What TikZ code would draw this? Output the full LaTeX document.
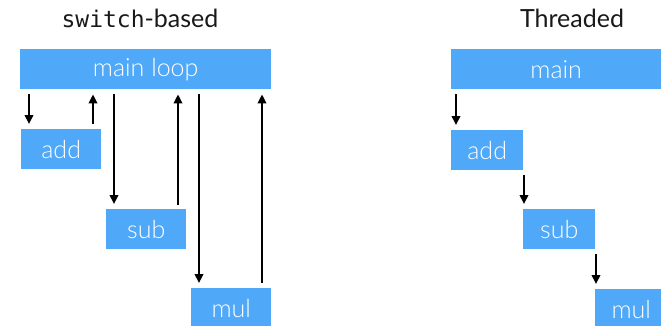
\documentclass[tikz,border=0pt]{standalone}
\usepackage{fontspec}
\setmainfont{Lato}[UprightFont=* Light]
\newfontfamily\titlefont{Lato}
\newfontfamily\monofont{DejaVu Sans Mono}
\usetikzlibrary{arrows.meta}
\definecolor{boxblue}{RGB}{80,168,248}
\definecolor{titlegray}{RGB}{25,25,25}
\tikzset{
  blk/.style={fill=boxblue, text=white, inner sep=0pt, anchor=north west, font=\fontsize{25}{30}\selectfont},
  arr/.style={line width=2pt, -{Triangle[length=9pt,width=8.5pt]}},
  ttl/.style={text=titlegray, anchor=base, inner sep=0pt, font=\titlefont\fontsize{25}{30}\selectfont},
}
\begin{document}
\begin{tikzpicture}[x=1pt,y=-1pt]
\useasboundingbox (0,0) rectangle (661,325);
% titles
\node[ttl] (t1) at (140,27) {{\monofont\fontsize{23}{28}\selectfont switch}-based};
\node[ttl] (t2) at (572,27) {Threaded};
% left panel
\node[blk, minimum width=251, minimum height=40] (mainloop) at (20,49) {main loop};
\node[blk, minimum width=80, minimum height=40] (add) at (21,129) {add};
\node[blk, minimum width=80, minimum height=40] (sub) at (106,209) {sub};
\node[blk, minimum width=80, minimum height=40] (mul) at (191,288) {mul};
\coordinate (x1) at (29,0);
\coordinate (x2) at (93,0);
\coordinate (x3) at (114,0);
\coordinate (x4) at (178,0);
\coordinate (x5) at (199,0);
\coordinate (x6) at (262,0);
\draw[arr, shorten <=5pt, shorten >=5pt] (x1 |- mainloop.south) -- (x1 |- add.north);
\draw[arr, shorten <=5pt, shorten >=5pt] (x2 |- add.north) -- (x2 |- mainloop.south);
\draw[arr, shorten <=5pt, shorten >=5pt] (x3 |- mainloop.south) -- (x3 |- sub.north);
\draw[arr, shorten <=4pt, shorten >=5pt] (x4 |- sub.north) -- (x4 |- mainloop.south);
\draw[arr, shorten <=5pt, shorten >=5pt] (x5 |- mainloop.south) -- (x5 |- mul.north);
\draw[arr, shorten <=5pt, shorten >=5pt] (x6 |- mul.north) -- (x6 |- mainloop.south);
% right panel
\node[blk, minimum width=210, minimum height=40] (main) at (451,49) {main};
\node[blk, minimum width=72, minimum height=40] (tadd) at (451,130) {add};
\node[blk, minimum width=72, minimum height=40] (tsub) at (523,209) {sub};
\node[blk, minimum width=72, minimum height=40] (tmul) at (595,289) {mul};
\coordinate (y1) at (456,0);
\coordinate (y2) at (524,0);
\coordinate (y3) at (596,0);
\draw[arr, shorten <=5pt, shorten >=5pt] (y1 |- main.south) -- (y1 |- tadd.north);
\draw[arr, shorten <=5pt, shorten >=5pt] (y2 |- tadd.south) -- (y2 |- tsub.north);
\draw[arr, shorten <=5pt, shorten >=5pt] (y3 |- tsub.south) -- (y3 |- tmul.north);
\end{tikzpicture}
\end{document}
